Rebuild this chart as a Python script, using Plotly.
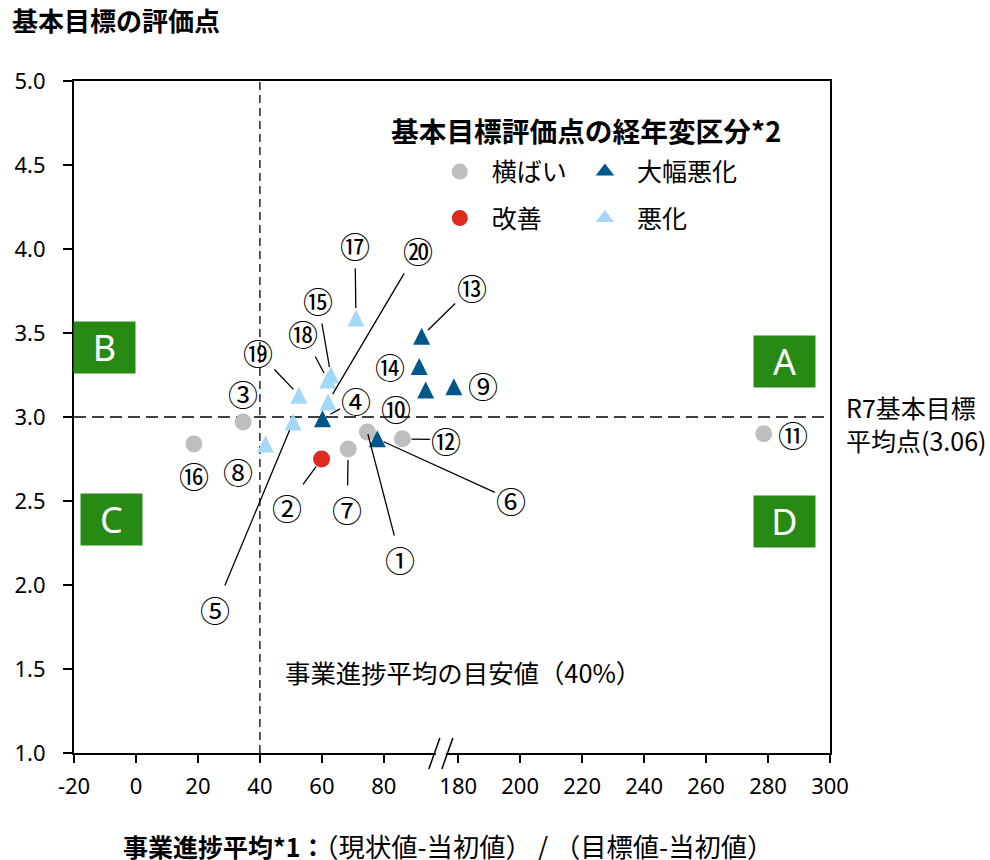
import plotly.graph_objects as go

# ---------------- data ----------------
# 横ばい (gray circles)
flat_ids = [1, 3, 7, 11, 12, 16]
flat_x = [74.7, 34.6, 68.5, 278.6, 86.0, 18.7]
flat_y = [2.91, 2.97, 2.81, 2.90, 2.87, 2.84]
# 改善 (red circle)
improve_ids = [2]
improve_x = [59.9]
improve_y = [2.75]
# 大幅悪化 (dark blue triangles)
bigworse_ids = [4, 6, 9, 10, 13, 14]
bigworse_x = [60.2, 77.9, 102.6, 93.5, 92.2, 91.4]
bigworse_y = [2.99, 2.87, 3.18, 3.16, 3.48, 3.30]
# 悪化 (light blue triangles)
worse_ids = [5, 8, 15, 17, 18, 19, 20]
worse_x = [50.7, 41.8, 62.9, 71.0, 61.9, 52.6, 62.0]
worse_y = [2.97, 2.84, 3.25, 3.59, 3.22, 3.13, 3.09]

x_tick_values = [-20, 0, 20, 40, 60, 80, 180, 200, 220, 240, 260, 280, 300]
y_tick_values = [1.0, 1.5, 2.0, 2.5, 3.0, 3.5, 4.0, 4.5, 5.0]
target_progress = 40          # 事業進捗平均の目安値（40%）
average_score_line = 3.0      # R7基本目標平均点 line
x_min, x_max = -20, 300
y_min, y_max = 1.0, 5.0

series_names = ["横ばい", "改善", "大幅悪化", "悪化"]

# ---------------- broken x axis mapping ----------------
AXIS_SHIFT = 76      # 180 on the real scale sits at 104 on the drawn axis
SPLIT = 140
BREAK_AT = 98.4      # position of the "//" mark (drawn axis units)


def to_axis(v):
    return v if v < SPLIT else v - AXIS_SHIFT


def to_axis_list(vals):
    return [to_axis(v) for v in vals]


# ---------------- styles ----------------
CJK = "Noto Sans CJK JP"
LAT = "Noto Sans, Noto Sans CJK JP"
C_GRAY = "#BEBEBE"
C_RED = "#DC2A1E"
C_DARK = "#00578A"
C_LIGHT = "#A3D8F8"
C_GREEN = "#268A14"

# label offsets (px, label centre minus marker centre) and arrow standoff
label_style = {
    1: (33, 127, 2), 2: (-35, 48, 9), 3: (0, -29, None), 4: (34, -19, 9),
    5: (-78, 187, 9), 6: (134, 61, 7), 7: (-1, 60, 11), 8: (-27, 27, None),
    9: (29, -2, None), 10: (-30, 18, None), 11: (29, 0, None), 12: (44, 1, 9),
    13: (50, -49, 9), 14: (-29, -1, None), 15: (-13, -75, 8), 16: (0, 31, None),
    17: (-1, -73, 10), 18: (-25, -47, 8), 19: (-41, -43, 8), 20: (90, -152, 9),
}

fig = go.Figure()

CIRCLE_SIZE = 17
TRI_SIZE = 17

fig.add_trace(go.Scatter(x=to_axis_list(flat_x), y=flat_y, mode="markers",
                         marker=dict(color=C_GRAY, size=CIRCLE_SIZE, symbol="circle"),
                         showlegend=False, hoverinfo="skip"))
fig.add_trace(go.Scatter(x=to_axis_list(improve_x), y=improve_y, mode="markers",
                         marker=dict(color=C_RED, size=CIRCLE_SIZE, symbol="circle"),
                         showlegend=False, hoverinfo="skip"))
tri_marker = dict(size=TRI_SIZE, symbol="arrow-down", angle=180, standoff=TRI_SIZE / 2,
                  line=dict(width=0))
fig.add_trace(go.Scatter(x=to_axis_list(worse_x), y=worse_y, mode="markers",
                         marker=dict(color=C_LIGHT, **tri_marker),
                         showlegend=False, hoverinfo="skip"))
fig.add_trace(go.Scatter(x=to_axis_list(bigworse_x), y=bigworse_y, mode="markers",
                         marker=dict(color=C_DARK, **tri_marker),
                         showlegend=False, hoverinfo="skip"))

# legend entries
legend_specs = [
    (series_names[0], C_GRAY, "circle", "legend", "g1"),
    (series_names[1], C_RED, "circle", "legend", "g2"),
    (series_names[2], C_DARK, "triangle-up", "legend2", "g3"),
    (series_names[3], C_LIGHT, "triangle-up", "legend2", "g4"),
]
for name, col, sym, lg, grp in legend_specs:
    fig.add_trace(go.Scatter(x=[None], y=[None], mode="markers", name=name,
                             marker=dict(color=col, size=16, symbol=sym),
                             legend=lg, legendgroup=grp, showlegend=True))

# reference lines
fig.add_shape(type="line", xref="x", yref="y domain", x0=target_progress, x1=target_progress,
              y0=0, y1=1, line=dict(color="black", width=1.3, dash="8px,5px"), layer="below")
fig.add_shape(type="line", xref="x domain", yref="y", x0=0, x1=1,
              y0=average_score_line, y1=average_score_line,
              line=dict(color="black", width=1.3, dash="12px,6px"), layer="below")

# axis break mark (pixel-sized, anchored on the axis)
fig.add_shape(type="rect", xref="x", yref="paper", xsizemode="pixel", ysizemode="pixel",
              xanchor=BREAK_AT, yanchor=0, x0=-5, x1=5, y0=-4, y1=4,
              fillcolor="white", line=dict(width=0), layer="above")
for dx0 in (-12, 1):
    fig.add_shape(type="line", xref="x", yref="paper", xsizemode="pixel", ysizemode="pixel",
                  xanchor=BREAK_AT, yanchor=0, x0=dx0, x1=dx0 + 11, y0=-16, y1=15,
                  line=dict(color="black", width=1.5), layer="above")

annotations = []


def circ(n):
    return chr(0x2460 + n - 1)


for ids, xs, ys in [(flat_ids, flat_x, flat_y), (improve_ids, improve_x, improve_y),
                    (bigworse_ids, bigworse_x, bigworse_y), (worse_ids, worse_x, worse_y)]:
    for i, xv, yv in zip(ids, xs, ys):
        dx, dy, so = label_style[i]
        base = dict(x=to_axis(xv), y=yv, xref="x", yref="y", text=circ(i),
                    font=dict(family=CJK, size=30, color="black"))
        if so is None:
            base.update(showarrow=False, xshift=dx, yshift=-dy)
        else:
            base.update(showarrow=True, ax=dx, ay=dy, arrowhead=0, arrowwidth=1.3,
                        arrowcolor="black", standoff=so)
        annotations.append(base)

# quadrant boxes
for letter, xd, yd in [("A", 0.940, 0.583), ("B", 0.041, 0.604),
                       ("C", 0.049, 0.347), ("D", 0.940, 0.344)]:
    annotations.append(dict(x=xd, y=yd, xref="x domain", yref="y domain", text=letter,
                            showarrow=False, bgcolor=C_GREEN, width=61, height=51,
                            borderpad=0, font=dict(family=LAT, size=36, color="white"),
                            xanchor="center", yanchor="middle", valign="middle"))

# texts
annotations.append(dict(x=-0.0845, y=1.092, xref="paper", yref="paper", xanchor="left",
                        yanchor="middle", showarrow=False, text="<b>基本目標の評価点</b>",
                        font=dict(family=CJK, size=26, color="black")))
annotations.append(dict(x=0.495, y=-0.137, xref="paper", yref="paper", xanchor="center",
                        yanchor="middle", showarrow=False,
                        text="<b>事業進捗平均*1：</b><span style=\"font-size:26.3px\">"
                             "（現状値-当初値）\u00a0/\u00a0（目標値-当初値）</span>",
                        font=dict(family=CJK, size=25, color="black")))
annotations.append(dict(x=0.417, y=0.927, xref="paper", yref="paper", xanchor="left",
                        yanchor="middle", showarrow=False,
                        text="<b>基本目標評価点の経年変区分*2</b>",
                        font=dict(family=CJK, size=27.7, color="black")))
annotations.append(dict(x=0.2765, y=0.1205, xref="x domain", yref="y domain", xanchor="left",
                        yanchor="middle", showarrow=False,
                        text="事業進捗平均の目安値（40%）",
                        font=dict(family=CJK, size=25.4, color="black")))
annotations.append(dict(x=1, y=0.49, xref="x domain", yref="y domain", xanchor="left",
                        xshift=14, yanchor="middle", showarrow=False, align="left",
                        text="R7基本目標<br>平均点(3.06)",
                        font=dict(family=CJK, size=25, color="black")))

tick_font = dict(family=LAT, size=22, color="black")
fig.update_layout(
    width=990, height=860,
    margin=dict(l=74, r=160, t=81, b=107),
    paper_bgcolor="white", plot_bgcolor="white",
    annotations=annotations,
    xaxis=dict(range=[to_axis(x_min), to_axis(x_max)], tickmode="array",
               tickvals=to_axis_list(x_tick_values), ticktext=[str(v) for v in x_tick_values],
               showgrid=False, zeroline=False, showline=True, linecolor="black", linewidth=2,
               mirror=True, ticks="outside", ticklen=8, tickwidth=1.5, tickcolor="black",
               tickfont=tick_font, ticklabelstandoff=5),
    yaxis=dict(range=[y_min, y_max], tickmode="array", tickvals=y_tick_values,
               ticktext=[f"{v:.1f}" for v in y_tick_values],
               showgrid=False, zeroline=False, showline=True, linecolor="black", linewidth=2,
               mirror=True, ticks="outside", ticklen=9, tickwidth=1.5, tickcolor="black",
               tickfont=tick_font, ticklabelstandoff=13),
    legend=dict(x=0.468, y=0.899, xanchor="left", yanchor="top", itemwidth=54,
                font=dict(family=CJK, size=25, color="black"), tracegroupgap=11,
                bgcolor="rgba(0,0,0,0)", traceorder="grouped"),
    legend2=dict(x=0.660, y=0.899, xanchor="left", yanchor="top", itemwidth=54,
                 font=dict(family=CJK, size=25, color="black"), tracegroupgap=11,
                 bgcolor="rgba(0,0,0,0)", traceorder="grouped"),
    showlegend=True,
)

fig.write_html("out.html", config={"displayModeBar": False},
               post_script="document.body.style.margin='0';document.body.style.padding='0';"
                           "document.body.style.overflow='hidden';")
